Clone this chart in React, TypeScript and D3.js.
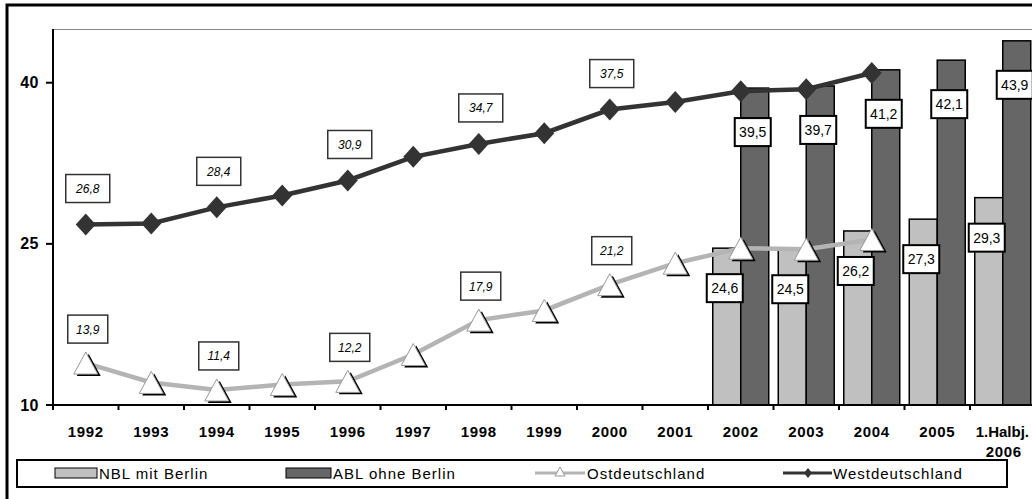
import React from "react";
import * as d3 from "d3";

const categories = ["1992","1993","1994","1995","1996","1997","1998","1999","2000","2001","2002","2003","2004","2005","1.Halbj. 2006"];
const tickLabels = [["1992"],["1993"],["1994"],["1995"],["1996"],["1997"],["1998"],["1999"],["2000"],["2001"],["2002"],["2003"],["2004"],["2005"],["1.Halbj.","2006"]];
const barCategories = ["2002","2003","2004","2005","1.Halbj. 2006"];
const nblValues = [24.6, 24.5, 26.2, 27.3, 29.3];
const ablValues = [39.5, 39.7, 41.2, 42.1, 43.9];
const lineCategories = ["1992","1993","1994","1995","1996","1997","1998","1999","2000","2001","2002","2003","2004"];
const ostValues = [13.9, 12.1, 11.4, 11.9, 12.2, 14.7, 17.9, 18.8, 21.2, 23.2, 24.6, 24.5, 25.4];
const westValues = [26.8, 26.9, 28.4, 29.5, 30.9, 33.1, 34.3, 35.3, 37.5, 38.2, 39.2, 39.4, 40.9];
const westLabelCats = ["1992","1994","1996","1998","2000"];
const westLabelTexts = ["26,8","28,4","30,9","34,7","37,5"];
const ostLabelCats = ["1992","1994","1996","1998","2000"];
const ostLabelTexts = ["13,9","11,4","12,2","17,9","21,2"];
const yTicks = [10, 25, 40];

const FONT = "'Liberation Sans', Arial, sans-serif";
const C_LIGHT = "#c0c0c0";
const C_DARK = "#666666";
const C_WEST = "#333333";
const C_OST = "#b4b4b4";

export default function App() {
  const W = 1032, H = 499;
  const x = d3.scaleBand<string>().domain(categories).range([53, 1035.5]).paddingInner(0).paddingOuter(0);
  const y = d3.scaleLinear().domain([10, 45]).range([405, 29]);
  const sub = d3.scaleBand<string>().domain(["NBL", "ABL"]).range([0, x.bandwidth()]).paddingInner(0).paddingOuter(0.17);
  const cx = (c: string) => (x(c) as number) + x.bandwidth() / 2;

  const westLine = d3.line<number>().x((_, i) => cx(lineCategories[i])).y(d => y(d));
  const ostLine = d3.line<number>().x((_, i) => cx(lineCategories[i])).y(d => y(d));

  const tri = (px: number, py: number) => `M${px},${py - 11} L${px + 12},${py + 11} L${px - 12},${py + 11} Z`;
  const diamond = (px: number, py: number, r = 10) => `M${px},${py - r - 1} L${px + r},${py} L${px},${py + r + 1} L${px - r},${py} Z`;

  return (
    <svg width={W} height={H} style={{ position: "absolute", left: 0, top: 0, background: "#fff" }} fontFamily={FONT}>
      <rect x={0} y={0} width={W} height={H} fill="#fff" />
      {/* outer frame */}
      <rect x={7} y={5} width={1060} height={520} fill="none" stroke="#000" strokeWidth={3} />
      {/* plot top border */}
      <line x1={53} x2={1040} y1={29.5} y2={29.5} stroke="#888" strokeWidth={1} />

      {/* bars */}
      {barCategories.map((c, i) => {
        const bx = x(c) as number;
        return (
          <g key={c}>
            <rect x={bx + (sub("NBL") as number)} y={y(nblValues[i])} width={sub.bandwidth()} height={y(10) - y(nblValues[i])} fill={C_LIGHT} stroke="#000" strokeWidth={1.5} />
            <rect x={bx + (sub("ABL") as number)} y={y(ablValues[i])} width={sub.bandwidth()} height={y(10) - y(ablValues[i])} fill={C_DARK} stroke="#000" strokeWidth={1.5} />
          </g>
        );
      })}

      {/* axes */}
      <line x1={53} x2={1040} y1={405} y2={405} stroke="#000" strokeWidth={2} />
      <line x1={53} x2={53} y1={29} y2={406} stroke="#000" strokeWidth={2} />
      {yTicks.map(t => (
        <g key={t}>
          <line x1={46} x2={53} y1={y(t)} y2={y(t)} stroke="#000" strokeWidth={2} />
          <text x={39} y={y(t) + 5.5} textAnchor="end" fontSize={16} fontWeight="bold" letterSpacing={0.5}>{t}</text>
        </g>
      ))}
      {categories.map((c, i) => {
        const multi = tickLabels[i].length > 1;
        return (
          <g key={c}>
            <line x1={(x(c) as number)} x2={(x(c) as number)} y1={405} y2={410} stroke="#000" strokeWidth={2} />
            {tickLabels[i].map((s, j) => {
              const first = multi && j === 0;
              return (
                <text key={j} x={first ? 1029 : cx(c) + (multi ? 1 : 0)} y={437 + j * 20} textAnchor={first ? "end" : "middle"} fontSize={15} fontWeight="bold" letterSpacing={first ? 0 : 0.6}>{s}</text>
              );
            })}
          </g>
        );
      })}

      {/* lines */}
      <path d={ostLine(ostValues) || ""} fill="none" stroke={C_OST} strokeWidth={4.5} />
      <path d={westLine(westValues) || ""} fill="none" stroke={C_WEST} strokeWidth={4.5} />
      {westValues.map((v, i) => (
        <path key={i} d={diamond(cx(lineCategories[i]), y(v))} fill={C_WEST} />
      ))}
      {ostValues.map((v, i) => {
        const px = cx(lineCategories[i]), py = y(v);
        return (
          <g key={i}>
            <path d={tri(px + 3, py + 2)} fill="#000" />
            <path d={tri(px, py)} fill="#fff" stroke="#999" strokeWidth={1} />
          </g>
        );
      })}

      {/* line labels */}
      {westLabelCats.map((c, i) => {
        const v = westValues[lineCategories.indexOf(c)];
        const px = cx(c) + 2, py = y(v) - 36;
        return (
          <g key={c}>
            <rect x={px - 22} y={py - 14} width={44} height={28} fill="#fff" stroke="#333" strokeWidth={1.5} />
            <text x={px} y={py + 4.5} textAnchor="middle" fontSize={12} fontStyle="italic">{westLabelTexts[i]}</text>
          </g>
        );
      })}
      {ostLabelCats.map((c, i) => {
        const v = ostValues[lineCategories.indexOf(c)];
        const px = cx(c) + 2, py = y(v) - 34;
        return (
          <g key={c}>
            <rect x={px - 20} y={py - 14} width={40} height={28} fill="#fff" stroke="#333" strokeWidth={1.5} />
            <text x={px} y={py + 4.5} textAnchor="middle" fontSize={12} fontStyle="italic">{ostLabelTexts[i]}</text>
          </g>
        );
      })}

      {/* bar labels */}
      {barCategories.map((c, i) => {
        const bx = x(c) as number;
        const nx = bx + (sub("NBL") as number) + sub.bandwidth() / 2 - 2;
        const ax = bx + (sub("ABL") as number) + sub.bandwidth() / 2 - 2;
        const ny = y(nblValues[i]) + 40;
        const ay = y(ablValues[i]) + 44;
        return (
          <g key={c}>
            <rect x={nx - 18} y={ny - 14} width={36} height={28} fill="#fff" stroke="#000" strokeWidth={2} />
            <text x={nx} y={ny + 5} textAnchor="middle" fontSize={14}>{String(nblValues[i]).replace(".", ",")}</text>
            <rect x={ax - 18} y={ay - 14} width={36} height={28} fill="#fff" stroke="#000" strokeWidth={2} />
            <text x={ax} y={ay + 5} textAnchor="middle" fontSize={14}>{String(ablValues[i]).replace(".", ",")}</text>
          </g>
        );
      })}

      {/* legend */}
      <rect x={17} y={460} width={990} height={27} fill="#fff" stroke="#000" strokeWidth={2} />
      <rect x={55} y={468} width={42} height={10} fill={C_LIGHT} stroke="#000" strokeWidth={1} />
      <text x={99} y={479} fontSize={15} letterSpacing={1}>NBL mit Berlin</text>
      <rect x={286} y={468} width={45} height={10} fill={C_DARK} stroke="#000" strokeWidth={1} />
      <text x={333} y={479} fontSize={15} letterSpacing={1}>ABL ohne Berlin</text>
      <line x1={535} x2={585} y1={473} y2={473} stroke={C_OST} strokeWidth={3} />
      <path d={`M560,467 L565,476 L555,476 Z`} fill="#fff" stroke="#999" strokeWidth={1} />
      <text x={587} y={479} fontSize={15} letterSpacing={1}>Ostdeutschland</text>
      <line x1={783} x2={832} y1={473} y2={473} stroke={C_WEST} strokeWidth={3} />
      <path d={diamond(808, 473, 4)} fill={C_WEST} />
      <text x={833} y={479} fontSize={15} letterSpacing={1}>Westdeutschland</text>
    </svg>
  );
}
